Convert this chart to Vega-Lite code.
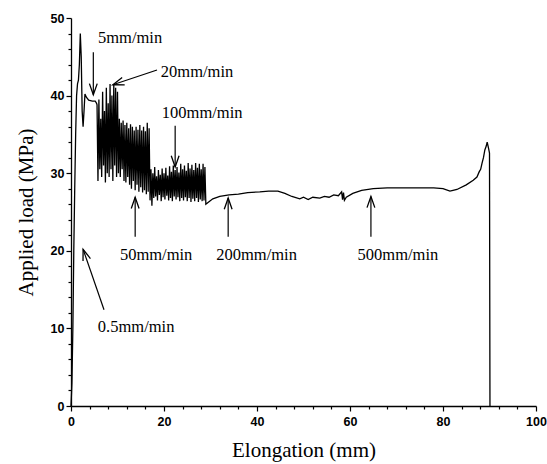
{
  "$schema": "https://vega.github.io/schema/vega-lite/v6.json",
  "width": 465,
  "height": 388,
  "autosize": {"type": "none"},
  "padding": {"left": 71, "top": 18, "right": 11, "bottom": 58},
  "background": "white",
  "config": {
    "view": {"stroke": null},
    "axis": {
      "domainColor": "black",
      "domainWidth": 1.3,
      "tickColor": "black",
      "tickWidth": 1.2,
      "labelColor": "black",
      "labelFont": "Liberation Sans",
      "labelFontWeight": "bold",
      "labelFontSize": 12.5,
      "titleFont": "Liberation Serif",
      "titleFontWeight": "normal",
      "titleFontSize": 21,
      "titleColor": "black",
      "grid": false
    }
  },
  "datasets": {
    "curve": [
      {"x": 0, "y": 0}, {"x": 0.2, "y": 3}, {"x": 0.4, "y": 10}, {"x": 0.6, "y": 20}, {"x": 0.8, "y": 28},
      {"x": 1.0, "y": 35}, {"x": 1.2, "y": 40}, {"x": 1.4, "y": 41.5}, {"x": 1.6, "y": 42}, {"x": 1.8, "y": 44},
      {"x": 2.0, "y": 48}, {"x": 2.2, "y": 45}, {"x": 2.4, "y": 38}, {"x": 2.6, "y": 36}, {"x": 2.8, "y": 38},
      {"x": 3.0, "y": 40.2}, {"x": 3.3, "y": 39.8}, {"x": 3.8, "y": 39.4}, {"x": 4.6, "y": 39.3}, {"x": 5.2, "y": 39.3},
      {"x": 5.5, "y": 39.0},
      {"x": 5.6, "y": 38.8}, {"x": 5.8, "y": 29.0}, {"x": 6.0, "y": 39.5}, {"x": 6.2, "y": 30.5}, {"x": 6.4, "y": 37.0},
      {"x": 6.6, "y": 29.5}, {"x": 6.8, "y": 40.5}, {"x": 7.0, "y": 31.0}, {"x": 7.2, "y": 38.0}, {"x": 7.4, "y": 28.8},
      {"x": 7.6, "y": 41.0}, {"x": 7.8, "y": 30.0}, {"x": 8.0, "y": 39.0}, {"x": 8.2, "y": 29.5}, {"x": 8.4, "y": 41.5},
      {"x": 8.6, "y": 30.5}, {"x": 8.8, "y": 40.0}, {"x": 9.0, "y": 29.0}, {"x": 9.2, "y": 41.5}, {"x": 9.4, "y": 31.0},
      {"x": 9.6, "y": 41.0}, {"x": 9.8, "y": 29.5}, {"x": 10.0, "y": 40.5}, {"x": 10.2, "y": 30.0},
      {"x": 10.4, "y": 37.0}, {"x": 10.6, "y": 29.5}, {"x": 10.8, "y": 36.5}, {"x": 11.0, "y": 30.5}, {"x": 11.2, "y": 36.8},
      {"x": 11.4, "y": 29.0}, {"x": 11.6, "y": 36.2}, {"x": 11.8, "y": 28.8}, {"x": 12.0, "y": 36.5}, {"x": 12.2, "y": 29.5},
      {"x": 12.4, "y": 35.8}, {"x": 12.6, "y": 28.5}, {"x": 12.8, "y": 36.3}, {"x": 13.0, "y": 28.0}, {"x": 13.2, "y": 36.0},
      {"x": 13.4, "y": 29.0}, {"x": 13.6, "y": 35.5}, {"x": 13.8, "y": 27.8}, {"x": 14.0, "y": 36.0}, {"x": 14.2, "y": 28.5},
      {"x": 14.4, "y": 35.6}, {"x": 14.6, "y": 27.6}, {"x": 14.8, "y": 36.2}, {"x": 15.0, "y": 28.2}, {"x": 15.2, "y": 35.5},
      {"x": 15.4, "y": 27.5}, {"x": 15.6, "y": 36.0}, {"x": 15.8, "y": 27.8}, {"x": 16.0, "y": 35.4}, {"x": 16.2, "y": 27.3},
      {"x": 16.4, "y": 36.5}, {"x": 16.6, "y": 27.6}, {"x": 16.8, "y": 35.8}, {"x": 17.0, "y": 26.5},
      {"x": 17.2, "y": 30.5}, {"x": 17.4, "y": 25.8}, {"x": 17.6, "y": 30.0}, {"x": 17.8, "y": 26.8}, {"x": 18.0, "y": 30.8},
      {"x": 18.2, "y": 27.0}, {"x": 18.4, "y": 29.6}, {"x": 18.6, "y": 26.5}, {"x": 18.8, "y": 30.4}, {"x": 19.0, "y": 27.2},
      {"x": 19.2, "y": 29.8}, {"x": 19.4, "y": 26.4}, {"x": 19.6, "y": 30.6}, {"x": 19.8, "y": 26.9}, {"x": 20.0, "y": 30.0},
      {"x": 20.2, "y": 26.6}, {"x": 20.4, "y": 30.7}, {"x": 20.6, "y": 27.1}, {"x": 20.8, "y": 29.7}, {"x": 21.0, "y": 26.5},
      {"x": 21.2, "y": 30.9}, {"x": 21.4, "y": 26.8}, {"x": 21.6, "y": 30.2}, {"x": 21.8, "y": 26.4}, {"x": 22.0, "y": 31.0},
      {"x": 22.2, "y": 27.0}, {"x": 22.4, "y": 30.4}, {"x": 22.6, "y": 26.6}, {"x": 22.8, "y": 30.8}, {"x": 23.0, "y": 26.9},
      {"x": 23.2, "y": 30.1}, {"x": 23.4, "y": 26.4}, {"x": 23.6, "y": 31.2}, {"x": 23.8, "y": 26.8}, {"x": 24.0, "y": 30.5},
      {"x": 24.2, "y": 26.5}, {"x": 24.4, "y": 31.0}, {"x": 24.6, "y": 26.9}, {"x": 24.8, "y": 30.3}, {"x": 25.0, "y": 26.4},
      {"x": 25.2, "y": 31.3}, {"x": 25.4, "y": 26.8}, {"x": 25.6, "y": 30.6}, {"x": 25.8, "y": 26.3}, {"x": 26.0, "y": 31.1},
      {"x": 26.2, "y": 26.7}, {"x": 26.4, "y": 30.4}, {"x": 26.6, "y": 26.4}, {"x": 26.8, "y": 31.3}, {"x": 27.0, "y": 26.8},
      {"x": 27.2, "y": 30.7}, {"x": 27.4, "y": 26.3}, {"x": 27.6, "y": 31.2}, {"x": 27.8, "y": 26.6}, {"x": 28.0, "y": 30.5},
      {"x": 28.2, "y": 26.4}, {"x": 28.4, "y": 31.2}, {"x": 28.6, "y": 26.5}, {"x": 28.8, "y": 30.8}, {"x": 29.0, "y": 26.0},
      {"x": 29.4, "y": 26.2}, {"x": 30.5, "y": 26.7}, {"x": 32, "y": 27.0}, {"x": 34, "y": 27.2}, {"x": 36, "y": 27.3},
      {"x": 38, "y": 27.5}, {"x": 40.6, "y": 27.6}, {"x": 42.5, "y": 27.7}, {"x": 44.5, "y": 27.7}, {"x": 46, "y": 27.4},
      {"x": 47.5, "y": 27.0}, {"x": 49.2, "y": 26.7}, {"x": 50, "y": 26.9}, {"x": 51, "y": 26.6}, {"x": 52, "y": 26.9},
      {"x": 53.5, "y": 26.8}, {"x": 54.5, "y": 27.0}, {"x": 55.5, "y": 26.9}, {"x": 56.5, "y": 27.2}, {"x": 57.5, "y": 27.1},
      {"x": 58.2, "y": 27.6}, {"x": 58.4, "y": 26.6}, {"x": 58.6, "y": 27.5}, {"x": 58.8, "y": 26.5}, {"x": 59.2, "y": 26.9},
      {"x": 60.6, "y": 27.4}, {"x": 62.5, "y": 27.8}, {"x": 65, "y": 28.0}, {"x": 68, "y": 28.1}, {"x": 73.5, "y": 28.1},
      {"x": 78, "y": 28.1}, {"x": 80, "y": 28.0}, {"x": 81.5, "y": 27.7}, {"x": 83, "y": 27.9}, {"x": 85, "y": 28.5},
      {"x": 86.5, "y": 29.1}, {"x": 87.3, "y": 29.5}, {"x": 87.8, "y": 30.2}, {"x": 88.1, "y": 30.5}, {"x": 88.4, "y": 31.3},
      {"x": 88.7, "y": 32.0}, {"x": 89.0, "y": 33.0}, {"x": 89.3, "y": 33.5}, {"x": 89.5, "y": 34.0}, {"x": 89.8, "y": 33.2},
      {"x": 90.0, "y": 32.6}, {"x": 90.1, "y": 0}
    ],
    "arrows": [
      {"label": "5mm/min", "x": 4.8, "y": 40.1, "x2": 4.8, "y2": 45.6},
      {"label": "20mm/min", "x": 9.0, "y": 41.4, "x2": 18.5, "y2": 43.3},
      {"label": "100mm/min", "x": 22.4, "y": 30.8, "x2": 22.4, "y2": 36.1},
      {"label": "50mm/min", "x": 13.8, "y": 26.9, "x2": 13.8, "y2": 21.8},
      {"label": "200mm/min", "x": 33.8, "y": 26.8, "x2": 33.8, "y2": 21.8},
      {"label": "500mm/min", "x": 64.5, "y": 27.0, "x2": 64.5, "y2": 21.8},
      {"label": "0.5mm/min", "x": 2.6, "y": 20.2, "x2": 7.1, "y2": 12.4}
    ],
    "labels": [
      {"label": "5mm/min", "x": 12.7, "y": 47.4},
      {"label": "20mm/min", "x": 27.1, "y": 43.1},
      {"label": "100mm/min", "x": 28.2, "y": 37.8},
      {"label": "50mm/min", "x": 18.3, "y": 19.5},
      {"label": "200mm/min", "x": 39.9, "y": 19.5},
      {"label": "500mm/min", "x": 70.3, "y": 19.5},
      {"label": "0.5mm/min", "x": 14.0, "y": 10.2}
    ]
  },
  "layer": [
    {
      "data": {"name": "curve"},
      "mark": {"type": "line", "color": "black", "strokeWidth": 1.3},
      "encoding": {
        "x": {
          "field": "x", "type": "quantitative",
          "scale": {"domain": [0, 100], "nice": false, "zero": false},
          "axis": {
            "title": "Elongation (mm)",
            "values": [0, 4, 8, 12, 16, 20, 24, 28, 32, 36, 40, 44, 48, 52, 56, 60, 64, 68, 72, 76, 80, 84, 88, 92, 96, 100],
            "tickCount": 200,
            "format": "d",
            "labelExpr": "datum.value % 20 == 0 ? datum.label : ''",
            "tickSize": {"condition": {"test": "datum.value % 20 == 0", "value": 5}, "value": 3},
            "labelFlush": false,
            "labelOverlap": false,
            "labelPadding": 4,
            "titlePadding": 12
          }
        },
        "y": {
          "field": "y", "type": "quantitative",
          "scale": {"domain": [0, 50], "nice": false},
          "axis": {
            "title": "Applied load (MPa)",
            "values": [0, 2, 4, 6, 8, 10, 12, 14, 16, 18, 20, 22, 24, 26, 28, 30, 32, 34, 36, 38, 40, 42, 44, 46, 48, 50],
            "tickCount": 200,
            "format": "d",
            "labelExpr": "datum.value % 10 == 0 ? datum.label : ''",
            "tickSize": {"condition": {"test": "datum.value % 10 == 0", "value": 5}, "value": 3},
            "labelFlush": false,
            "labelOverlap": false,
            "labelPadding": 2,
            "titlePadding": 14
          }
        },
        "order": {"value": null}
      }
    },
    {
      "data": {"name": "arrows"},
      "mark": {"type": "rule", "color": "black", "strokeWidth": 1.2},
      "encoding": {
        "x": {"field": "x", "type": "quantitative"},
        "y": {"field": "y", "type": "quantitative"},
        "x2": {"field": "x2"},
        "y2": {"field": "y2"}
      }
    },
    {
      "data": {"name": "arrows"},
      "transform": [{"filter": "datum.label == '5mm/min' || datum.label == '100mm/min'"}],
      "mark": {"type": "point", "shape": "M-0.35,-1L0,0L0.35,-1", "filled": false, "stroke": "black", "strokeWidth": 1.3, "size": 500, "opacity": 1, "angle": 0},
      "encoding": {
        "x": {"field": "x", "type": "quantitative"},
        "y": {"field": "y", "type": "quantitative"}
      }
    },
    {
      "data": {"name": "arrows"},
      "transform": [{"filter": "datum.label == '50mm/min' || datum.label == '200mm/min' || datum.label == '500mm/min'"}],
      "mark": {"type": "point", "shape": "M-0.35,-1L0,0L0.35,-1", "filled": false, "stroke": "black", "strokeWidth": 1.3, "size": 500, "opacity": 1, "angle": 180},
      "encoding": {
        "x": {"field": "x", "type": "quantitative"},
        "y": {"field": "y", "type": "quantitative"}
      }
    },
    {
      "data": {"name": "arrows"},
      "transform": [{"filter": "datum.label == '20mm/min'"}],
      "mark": {"type": "point", "shape": "M-0.35,-1L0,0L0.35,-1", "filled": false, "stroke": "black", "strokeWidth": 1.3, "size": 500, "opacity": 1, "angle": 71},
      "encoding": {
        "x": {"field": "x", "type": "quantitative"},
        "y": {"field": "y", "type": "quantitative"}
      }
    },
    {
      "data": {"name": "arrows"},
      "transform": [{"filter": "datum.label == '0.5mm/min'"}],
      "mark": {"type": "point", "shape": "M-0.35,-1L0,0L0.35,-1", "filled": false, "stroke": "black", "strokeWidth": 1.3, "size": 500, "opacity": 1, "angle": 161},
      "encoding": {
        "x": {"field": "x", "type": "quantitative"},
        "y": {"field": "y", "type": "quantitative"}
      }
    },
    {
      "data": {"name": "labels"},
      "mark": {"type": "text", "font": "Liberation Serif", "fontSize": 16.5, "color": "black", "align": "center", "baseline": "middle"},
      "encoding": {
        "x": {"field": "x", "type": "quantitative"},
        "y": {"field": "y", "type": "quantitative"},
        "text": {"field": "label"}
      }
    }
  ]
}
